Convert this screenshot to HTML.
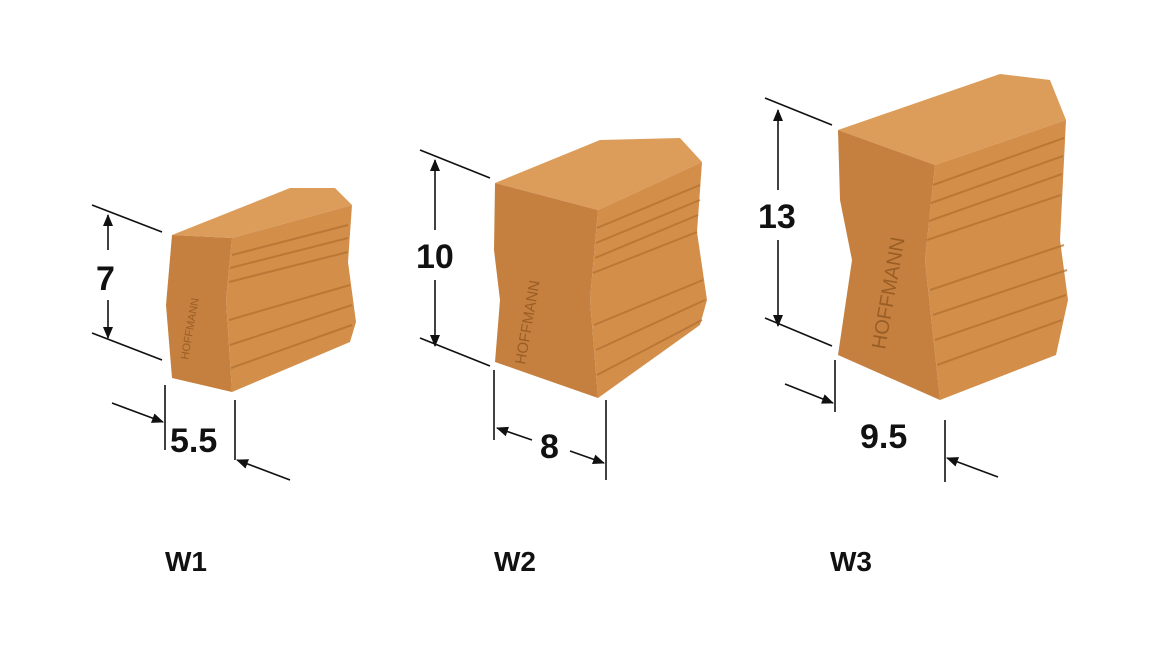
<!DOCTYPE html>
<html><head><meta charset="utf-8"><style>
html,body{margin:0;padding:0;background:#fff;}
svg{display:block;}
.d{font-family:"Liberation Sans",Arial,sans-serif;font-weight:bold;font-size:34px;fill:#111;}
.w{font-family:"Liberation Sans",Arial,sans-serif;font-weight:bold;font-size:28px;fill:#111;}
.l{stroke:#111;stroke-width:1.6;fill:none;}
.r{stroke:#b06f2e;stroke-width:2;fill:none;opacity:.7;}
</style></head><body>
<svg width="1164" height="649" viewBox="0 0 1164 649">
<defs>
<marker id="a" markerWidth="12" markerHeight="10" refX="11" refY="5" orient="auto" markerUnits="userSpaceOnUse">
<path d="M0,0 L12,5 L0,10 z" fill="#111"/></marker>
</defs>
<!-- W1 -->
<polygon points="172,235 290,188 335,188 352,205 232,238" fill="#dc9c5a"/>
<polygon points="232,238 352,205 348,262 356,322 350,342 232,392 226,300" fill="#d38e4a"/>
<polygon points="172,235 232,238 226,300 232,392 172,378 166,305" fill="#c5803f"/>
<g class="r"><path d="M232,255 L348,225"/><path d="M230,268 L348,238"/><path d="M229,282 L348,252"/><path d="M229,320 L350,285"/><path d="M230,345 L352,305"/><path d="M231,368 L352,325"/></g>
<text x="188" y="360" transform="rotate(-80 188 360)" font-family="Liberation Sans" font-size="11" fill="#9a5e25">HOFFMANN</text>
<!-- W2 -->
<polygon points="495,183 600,140 680,138 702,162 598,210" fill="#dc9c5a"/>
<polygon points="598,210 702,162 697,232 707,300 700,325 598,398 590,300" fill="#d38e4a"/>
<polygon points="495,183 598,210 590,300 598,398 495,362 500,300 494,250" fill="#c5803f"/>
<g class="r"><path d="M597,228 L700,185"/><path d="M596,243 L700,200"/><path d="M595,258 L698,215"/><path d="M593,273 L697,232"/><path d="M594,325 L703,280"/><path d="M596,350 L705,300"/><path d="M597,375 L702,320"/></g>
<text x="525" y="365" transform="rotate(-80 525 365)" font-family="Liberation Sans" font-size="15" fill="#9a5e25">HOFFMANN</text>
<!-- W3 -->
<polygon points="838,130 1000,74 1050,80 1066,120 935,165" fill="#dc9c5a"/>
<polygon points="935,165 1066,120 1060,240 1068,300 1056,355 940,400 925,260" fill="#d38e4a"/>
<polygon points="838,130 935,165 925,260 940,400 838,355 852,260 840,200" fill="#c5803f"/>
<g class="r"><path d="M933,185 L1064,138"/><path d="M931,203 L1063,156"/><path d="M929,221 L1062,174"/><path d="M927,240 L1061,195"/><path d="M930,290 L1064,245"/><path d="M933,315 L1067,270"/><path d="M935,340 L1066,295"/><path d="M937,365 L1062,320"/></g>
<text x="885" y="350" transform="rotate(-80 885 350)" font-family="Liberation Sans" font-size="20" fill="#9a5e25">HOFFMANN</text>
<!-- W1 dims -->
<line class="l" x1="92" y1="205" x2="162" y2="232"/>
<line class="l" x1="92" y1="333" x2="162" y2="360"/>
<line class="l" x1="108" y1="250" x2="108" y2="215" marker-end="url(#a)"/>
<line class="l" x1="108" y1="300" x2="108" y2="338" marker-end="url(#a)"/>
<text class="d" x="96" y="290">7</text>
<line class="l" x1="165" y1="385" x2="165" y2="450"/>
<line class="l" x1="235" y1="400" x2="235" y2="460"/>
<line class="l" x1="112" y1="403" x2="163" y2="422" marker-end="url(#a)"/>
<line class="l" x1="290" y1="480" x2="237" y2="460" marker-end="url(#a)"/>
<text class="d" x="170" y="452">5.5</text>
<!-- W2 dims -->
<line class="l" x1="420" y1="150" x2="490" y2="178"/>
<line class="l" x1="420" y1="338" x2="490" y2="366"/>
<line class="l" x1="435" y1="230" x2="435" y2="160" marker-end="url(#a)"/>
<line class="l" x1="435" y1="280" x2="435" y2="346" marker-end="url(#a)"/>
<text class="d" x="416" y="268">10</text>
<line class="l" x1="494" y1="370" x2="494" y2="440"/>
<line class="l" x1="606" y1="400" x2="606" y2="480"/>
<line class="l" x1="532" y1="440" x2="497" y2="428" marker-end="url(#a)"/>
<line class="l" x1="570" y1="451" x2="604" y2="463" marker-end="url(#a)"/>
<text class="d" x="540" y="458">8</text>
<!-- W3 dims -->
<line class="l" x1="765" y1="98" x2="832" y2="125"/>
<line class="l" x1="765" y1="318" x2="832" y2="346"/>
<line class="l" x1="778" y1="190" x2="778" y2="110" marker-end="url(#a)"/>
<line class="l" x1="778" y1="240" x2="778" y2="326" marker-end="url(#a)"/>
<text class="d" x="758" y="228">13</text>
<line class="l" x1="835" y1="360" x2="835" y2="412"/>
<line class="l" x1="945" y1="420" x2="945" y2="482"/>
<line class="l" x1="785" y1="384" x2="833" y2="403" marker-end="url(#a)"/>
<line class="l" x1="998" y1="477" x2="947" y2="458" marker-end="url(#a)"/>
<text class="d" x="860" y="448">9.5</text>
<!-- labels -->
<text class="w" x="165" y="571">W1</text>
<text class="w" x="494" y="571">W2</text>
<text class="w" x="830" y="571">W3</text>
</svg>
</body></html>
